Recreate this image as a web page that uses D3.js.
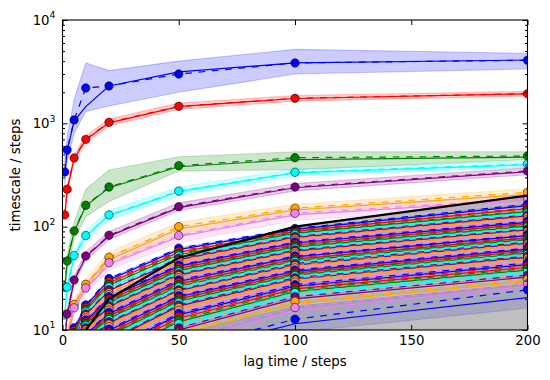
<!DOCTYPE html>
<html>
<head>
<meta charset="utf-8">
<script src="https://cdn.jsdelivr.net/npm/d3@7"></script>
<style>
  body { margin: 0; background: #fff; }
  text { font-family: "DejaVu Sans", sans-serif; fill: #000; }
</style>
</head>
<body>
<div id="chart"></div>
<script>
// lag times and colour cycle
var lags = [1, 2, 5, 10, 20, 50, 100, 200];
var colors = ["blue", "red", "green", "cyan", "purple", "orange", "violet"];

// the seven slowest processes (one row per process, one value per lag)
var topML = [
  [330, 540, 1050, 1450, 2300, 3150, 3840, 4100],
  [128, 228, 455, 695, 1010, 1450, 1740, 1930],
  [25.5, 46, 89, 158, 238, 380, 446, 470],
  [14, 26, 52, 81, 128, 218, 332, 398],
  [8, 14, 30, 51, 81, 153, 238, 340],
  [4.4, 8.8, 17.3, 27, 48, 95, 145, 205],
  [3.9, 7.8, 16, 25, 43, 80, 130, 180]
];
var topMean = [
  [338, 552, 1077, 2200, 2300, 3000, 3840, 4080],
  [130, 230, 462, 700, 1023, 1462, 1746, 1937],
  [26, 46.5, 91, 161, 242, 389, 465, 483],
  [14, 26, 52.5, 82, 130, 221, 336, 404],
  [8, 14.3, 30.5, 52, 82.5, 156, 242, 346],
  [4.5, 9, 17.7, 27.7, 50.5, 100, 151, 215],
  [4, 8, 16.4, 25.5, 44.8, 82, 134.6, 185]
];
var topLo = [
  [250, 430, 800, 1300, 1470, 2000, 3000, 3360],
  [118, 212, 425, 645, 945, 1360, 1640, 1840],
  [22, 38, 75, 125, 175, 345, 355, 446],
  [12.5, 23, 47, 73, 116, 200, 310, 375],
  [7, 12.8, 27.5, 47, 75, 143, 222, 318],
  [4, 8, 15.5, 24.5, 43, 85, 128, 185],
  [3.5, 7, 14.5, 22.5, 38, 70, 115, 160]
];
var topHi = [
  [480, 740, 1700, 3840, 3240, 4000, 5200, 4760],
  [142, 248, 500, 760, 1100, 1570, 1860, 2040],
  [29, 54, 110, 230, 353, 475, 530, 531],
  [15.5, 29, 58, 91, 144, 242, 362, 432],
  [9, 15.8, 33.5, 57, 90, 170, 262, 372],
  [5, 10, 20, 31, 57, 110, 165, 232],
  [4.5, 9, 18.5, 28.5, 52, 96, 150, 205]
];

// the fast processes (one array per lag, one value per process)
var fastLags = [5, 10, 20, 50, 100, 200];
var fastML5 = [10.2, 9.6, 9.1, 8.6, 8.2, 7.8, 7.5, 7.2, 6.9, 6.6, 6.3, 6.0, 5.7, 5.5, 5.3, 5.1, 4.9, 4.7, 4.5, 4.3, 4.1, 3.9, 3.7, 3.5, 3.3, 3.1, 2.9, 2.7, 2.5, 2.3, 2.1, 1.9, 1.7, 1.5, 1.3, 1.1];
var fastMean5 = [10.5, 9.9, 9.4, 8.9, 8.5, 8.1, 7.7, 7.4, 7.1, 6.8, 6.5, 6.2, 5.9, 5.6, 5.4, 5.2, 5.0, 4.8, 4.6, 4.4, 4.2, 4.0, 3.8, 3.6, 3.4, 3.2, 3.0, 2.8, 2.6, 2.4, 2.2, 2.0, 1.8, 1.6, 1.4, 1.2];
var fastML10 = [17.0, 16.2, 15.4, 14.6, 14.0, 13.4, 12.8, 12.2, 11.7, 11.2, 10.7, 10.2, 9.8, 9.4, 9.0, 8.6, 8.2, 7.8, 7.4, 7.0, 6.7, 6.4, 6.1, 5.8, 5.5, 5.2, 4.9, 4.6, 4.3, 4.0, 3.7, 3.4, 3.1, 2.8, 2.5, 2.0];
var fastMean10 = [17.5, 16.6, 15.8, 15.0, 14.3, 13.7, 13.1, 12.5, 12.0, 11.5, 11.0, 10.5, 10.0, 9.6, 9.2, 8.8, 8.4, 8.0, 7.6, 7.2, 6.9, 6.6, 6.3, 6.0, 5.7, 5.4, 5.1, 4.8, 4.5, 4.2, 3.9, 3.6, 3.3, 3.0, 2.7, 2.2];
var fastML20 = [30.5, 28.5, 27.0, 25.5, 24.0, 22.5, 21.5, 20.5, 19.5, 18.5, 17.6, 16.8, 16.0, 15.2, 14.4, 13.7, 13.0, 12.3, 11.7, 11.1, 10.5, 9.9, 9.3, 8.8, 8.3, 7.8, 7.3, 6.8, 6.4, 6.0, 5.6, 5.2, 4.8, 4.4, 4.0, 3.3];
var fastMean20 = [31.5, 29.5, 27.5, 26.0, 24.5, 23.0, 22.0, 21.0, 20.0, 19.0, 18.0, 17.2, 16.4, 15.6, 14.8, 14.0, 13.3, 12.6, 12.0, 11.4, 10.8, 10.2, 9.6, 9.0, 8.5, 8.0, 7.5, 7.0, 6.6, 6.2, 5.8, 5.4, 5.0, 4.6, 4.2, 3.5];
var fastML50 = [60, 56.5, 53.5, 50.5, 48, 45.5, 43.5, 41.5, 39.5, 37.5, 35.5, 34, 32.5, 31, 29.5, 28, 26.5, 25, 24, 23, 22, 21, 20, 19, 18, 17, 16, 15, 14, 13, 12, 11, 10, 9, 7.5, 6];
var fastMean50 = [62, 58, 55, 52, 49.5, 47, 44.5, 42.5, 40.5, 38.5, 36.5, 35, 33.5, 32, 30.5, 29, 27.5, 26, 24.5, 23.5, 22.5, 21.5, 20.5, 19.5, 18.5, 17.5, 16.5, 15.5, 14.5, 13.5, 12.5, 11.5, 10.5, 9.5, 8, 6.5];
var fastML100 = [94, 90, 86, 82, 78.5, 75.5, 72.5, 69.5, 66.5, 63.5, 61, 58, 55.5, 53, 51, 48.5, 46.5, 44.5, 42.5, 41, 39, 37, 35.5, 34, 32.5, 31, 29.5, 28, 26.5, 25, 23.5, 22, 20, 18, 15.5, 11.5];
var fastMean100 = [96, 92, 88, 84, 80.5, 77, 74, 71, 68, 65, 62, 59.5, 57, 54.5, 52, 50, 48, 46, 44, 42, 40, 38, 36.5, 35, 33.5, 32, 30.5, 29, 27.5, 26, 24.5, 23, 21, 19, 16.5, 12.7];
var fastML200 = [160, 149, 140, 134, 127, 122, 116, 110, 106, 101, 97, 93, 89, 85, 82, 78, 75, 72, 69, 66.5, 63, 60.5, 58, 55.5, 53, 50.5, 48, 45.5, 43, 40.5, 38, 35.5, 32.5, 29.5, 26.5, 20.6];
var fastMean200 = [165, 152, 143, 136, 130, 124, 118, 113, 108, 103, 99, 95, 91, 87, 83.5, 80, 77, 74, 71, 68, 65, 62, 59.5, 57, 54.5, 52, 49.5, 47, 44.5, 42, 39.5, 37, 34, 31, 28, 24.5];
// confidence band of the fastest (bottom) process
var lastLo = [0.8, 1.5, 2.5, 4.5, 9.5, 16.3];
var lastHi = [1.6, 3, 5.5, 9, 17, 28];

var xTicks = [0, 50, 100, 150, 200];
var yMajor = [10, 100, 1000, 10000];

var width = 550, height = 380;
var plotLeft = 62.5, plotRight = 527.5, plotTop = 20, plotBottom = 330;

var svg = d3.select("#chart").append("svg")
  .attr("width", width)
  .attr("height", height);

var x = d3.scaleLinear().domain([0, 200]).range([plotLeft, plotRight]);
var y = d3.scaleLog().domain([10, 10000]).range([plotBottom, plotTop]);

svg.append("defs").append("clipPath").attr("id", "clip")
  .append("rect")
    .attr("x", plotLeft).attr("y", plotTop)
    .attr("width", plotRight - plotLeft).attr("height", plotBottom - plotTop);

var plot = svg.append("g").attr("clip-path", "url(#clip)");

// collect every process as rows of {t, ml, mean, lo, hi}
var procs = [];
topML.forEach(function(ml, i) {
  procs.push(lags.map(function(t, j) {
    return {t: t, ml: ml[j], mean: topMean[i][j], lo: topLo[i][j], hi: topHi[i][j]};
  }));
});
var fastML = [fastML5, fastML10, fastML20, fastML50, fastML100, fastML200];
var fastMean = [fastMean5, fastMean10, fastMean20, fastMean50, fastMean100, fastMean200];
for (var k = 0; k < fastML200.length; k++) {
  var isLast = k === fastML200.length - 1;
  procs.push(fastLags.map(function(t, j) {
    var a = fastML[j][k], b = fastMean[j][k];
    return {t: t, ml: a, mean: b,
            lo: isLast ? lastLo[j] : Math.min(a, b),
            hi: isLast ? lastHi[j] : Math.max(a, b)};
  }));
}

var band = d3.area()
  .x(function(d) { return x(d.t); })
  .y0(function(d) { return y(d.lo); })
  .y1(function(d) { return y(d.hi); });

// confidence bands first (matplotlib puts collections under lines)
procs.forEach(function(p, i) {
  var c = colors[i % colors.length];
  plot.append("path")
    .datum(p)
    .attr("d", band)
    .attr("fill", c).attr("fill-opacity", 0.2)
    .attr("stroke", c).attr("stroke-opacity", 0.2).attr("stroke-width", 1.1);
});

// grey region below the lag time
plot.append("path")
  .datum(lags)
  .attr("d", d3.area()
    .x(function(d) { return x(d); })
    .y0(y(10))
    .y1(function(d) { return y(d); }))
  .attr("fill", "grey").attr("fill-opacity", 0.5)
  .attr("stroke", "grey").attr("stroke-opacity", 0.5).attr("stroke-width", 1.1);

var mlLine = d3.line().x(function(d) { return x(d.t); }).y(function(d) { return y(d.ml); });
var meanLine = d3.line().x(function(d) { return x(d.t); }).y(function(d) { return y(d.mean); });

procs.forEach(function(p, i) {
  var c = colors[i % colors.length];
  plot.append("path").datum(p)
    .attr("d", mlLine)
    .attr("fill", "none").attr("stroke", c).attr("stroke-width", 1.2);
  plot.append("path").datum(p)
    .attr("d", meanLine)
    .attr("fill", "none").attr("stroke", c).attr("stroke-width", 1.2)
    .attr("stroke-dasharray", "6.7,6.7");
  plot.append("g").selectAll("circle")
    .data(p)
    .enter()
    .append("circle")
      .attr("cx", function(d) { return x(d.t); })
      .attr("cy", function(d) { return y(d.mean); })
      .attr("r", 4.2)
      .attr("fill", c)
      .attr("stroke", "black").attr("stroke-width", 0.55);
});

// lag time line
plot.append("path")
  .datum(lags)
  .attr("d", d3.line().x(function(d) { return x(d); }).y(function(d) { return y(d); }))
  .attr("fill", "none").attr("stroke", "black").attr("stroke-width", 2.2);

// axes, ticks pointing inwards on all four sides
var yMinor = [];
[10, 100, 1000].forEach(function(dec) {
  for (var m = 2; m <= 9; m++) yMinor.push(dec * m);
});

function addAxis(axis, tx, ty) {
  var g = svg.append("g").attr("transform", "translate(" + tx + "," + ty + ")").call(axis);
  g.select(".domain").remove();
  g.selectAll("line").attr("stroke", "black").attr("stroke-width", 1);
  return g;
}

var xb = addAxis(d3.axisBottom(x).tickValues(xTicks).tickSizeInner(-5).tickSizeOuter(0).tickPadding(6), 0, plotBottom);
xb.selectAll("text").style("font-size", "13.3px").attr("font-family", "DejaVu Sans");
addAxis(d3.axisTop(x).tickValues(xTicks).tickSizeInner(-5).tickSizeOuter(0).tickFormat(""), 0, plotTop);
addAxis(d3.axisLeft(y).tickValues(yMajor).tickSizeInner(-5).tickSizeOuter(0).tickFormat(""), plotLeft, 0);
addAxis(d3.axisLeft(y).tickValues(yMinor).tickSizeInner(-2.5).tickSizeOuter(0).tickFormat(""), plotLeft, 0);
addAxis(d3.axisRight(y).tickValues(yMajor).tickSizeInner(-5).tickSizeOuter(0).tickFormat(""), plotRight, 0);
addAxis(d3.axisRight(y).tickValues(yMinor).tickSizeInner(-2.5).tickSizeOuter(0).tickFormat(""), plotRight, 0);

svg.append("rect")
  .attr("x", plotLeft).attr("y", plotTop)
  .attr("width", plotRight - plotLeft).attr("height", plotBottom - plotTop)
  .attr("fill", "none").attr("stroke", "black").attr("stroke-width", 1.1);

// y tick labels as powers of ten
yMajor.forEach(function(v) {
  var t = svg.append("text")
    .attr("x", 55.5)
    .attr("y", y(v) + 4.8)
    .attr("text-anchor", "end")
    .style("font-size", "13.3px");
  t.append("tspan").text("10");
  t.append("tspan")
    .attr("dy", -6.4)
    .style("font-size", "9.3px")
    .text(Math.round(Math.log10(v)));
});

svg.append("text")
  .attr("x", (plotLeft + plotRight) / 2)
  .attr("y", 365.5)
  .attr("text-anchor", "middle")
  .style("font-size", "13.3px")
  .text("lag time / steps");

svg.append("text")
  .attr("transform", "translate(20," + (plotTop + plotBottom) / 2 + ") rotate(-90)")
  .attr("text-anchor", "middle")
  .style("font-size", "13.3px")
  .text("timescale / steps");
</script>
</body>
</html>
